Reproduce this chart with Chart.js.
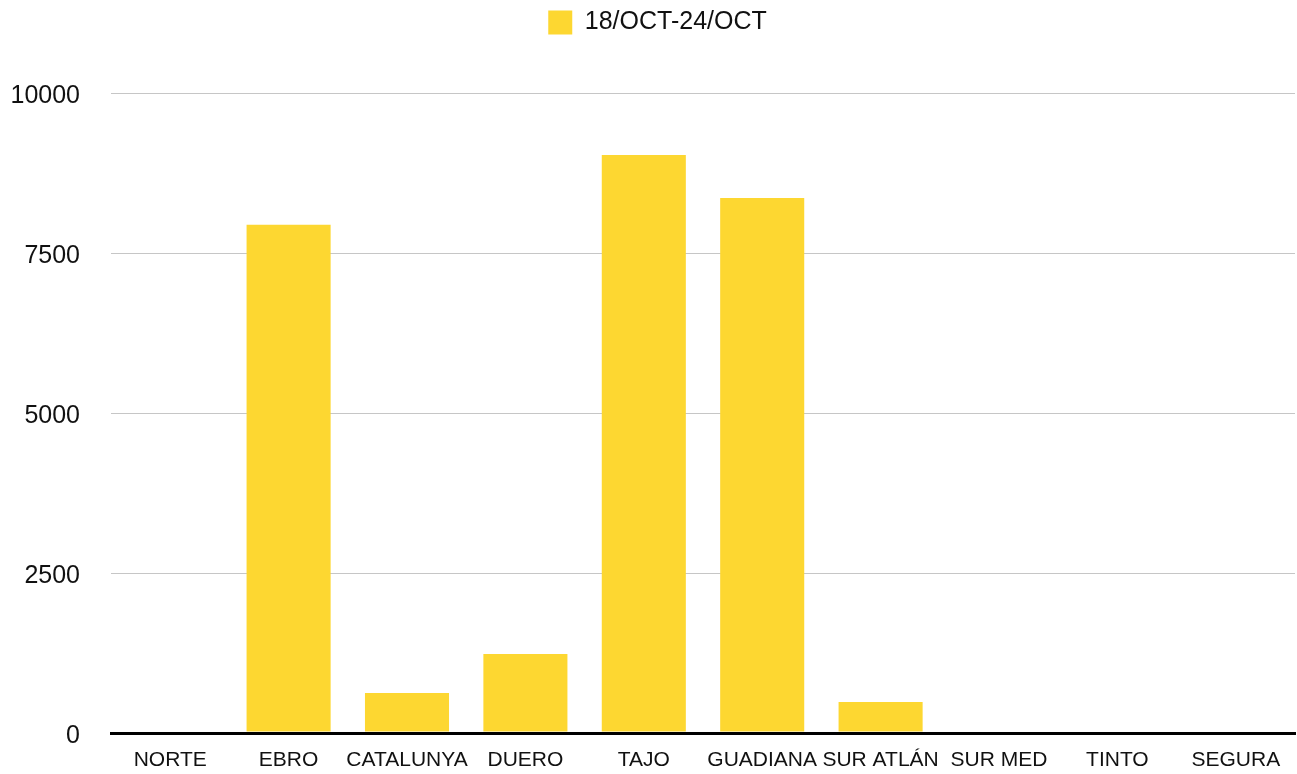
<!DOCTYPE html>
<html>
<head>
<meta charset="utf-8">
<script src="https://cdn.jsdelivr.net/npm/chart.js@4/dist/chart.umd.min.js"></script>
<style>
html,body{margin:0;padding:0;background:#fff;}
#wrap{width:1297px;height:774px;position:relative;}
</style>
</head>
<body>
<div id="wrap"><canvas id="c"></canvas></div>
<script>
const categories = ["NORTE","EBRO","CATALUNYA","DUERO","TAJO","GUADIANA","SUR ATLÁN","SUR MED","TINTO","SEGURA"];
const seriesName = "18/OCT-24/OCT";
const values = [0, 7940, 625, 1235, 9030, 8360, 485, 0, 0, 0];
const yTicks = [0, 2500, 5000, 7500, 10000];

Chart.defaults.font.family = "'Liberation Sans', Arial, Helvetica, sans-serif";
Chart.defaults.color = "#111";

new Chart(document.getElementById('c'), {
  type: 'bar',
  data: {
    labels: categories,
    datasets: [{
      label: seriesName,
      data: values,
      backgroundColor: '#FDD731',
      borderWidth: 0,
      categoryPercentage: 1,
      barPercentage: 0.71
    }]
  },
  options: {
    responsive: true,
    maintainAspectRatio: false,
    animation: false,
    layout: { padding: { top: 0, right: 2, bottom: 0, left: 0 } },
    plugins: {
      tooltip: { enabled: false },
      legend: {
        display: true,
        position: 'top',
        labels: {
          boxWidth: 24,
          boxHeight: 24,
          padding: 10,
          font: { size: 25 },
          color: '#111'
        }
      }
    },
    scales: {
      x: {
        grid: { display: false, drawTicks: false },
        border: { display: true, color: '#000', width: 3 },
        ticks: { font: { size: 21 }, padding: 15, color: '#111', maxRotation: 0, autoSkip: false },
        afterFit: (s) => { s.height = 41; }
      },
      y: {
        min: 0,
        max: 10000,
        afterBuildTicks: (s) => { s.ticks = yTicks.map(v => ({ value: v })); },
        afterFit: (s) => { s.width = 111; s.paddingTop = 0; s.paddingBottom = 0; },
        grid: {
          drawTicks: false,
          color: (c) => c.tick && c.tick.value === 0 ? '#000' : '#c6c6c6',
          lineWidth: (c) => c.tick && c.tick.value === 0 ? 3 : 1
        },
        border: { display: false },
        ticks: { font: { size: 25 }, padding: 31, labelOffset: 3, color: '#111', callback: (v) => String(v) }
      }
    }
  },
  plugins: [{
    id: 'legendSpace',
    afterInit(chart) {
      const lg = chart.legend;
      const f = lg.fit;
      lg.fit = function() { f.call(this); this.height = 93; };
    },
    afterLayout(chart) {
      const lg = chart.legend;
      lg.left += 10;
      lg.right += 10;
    }
  }]
});
</script>
</body>
</html>
